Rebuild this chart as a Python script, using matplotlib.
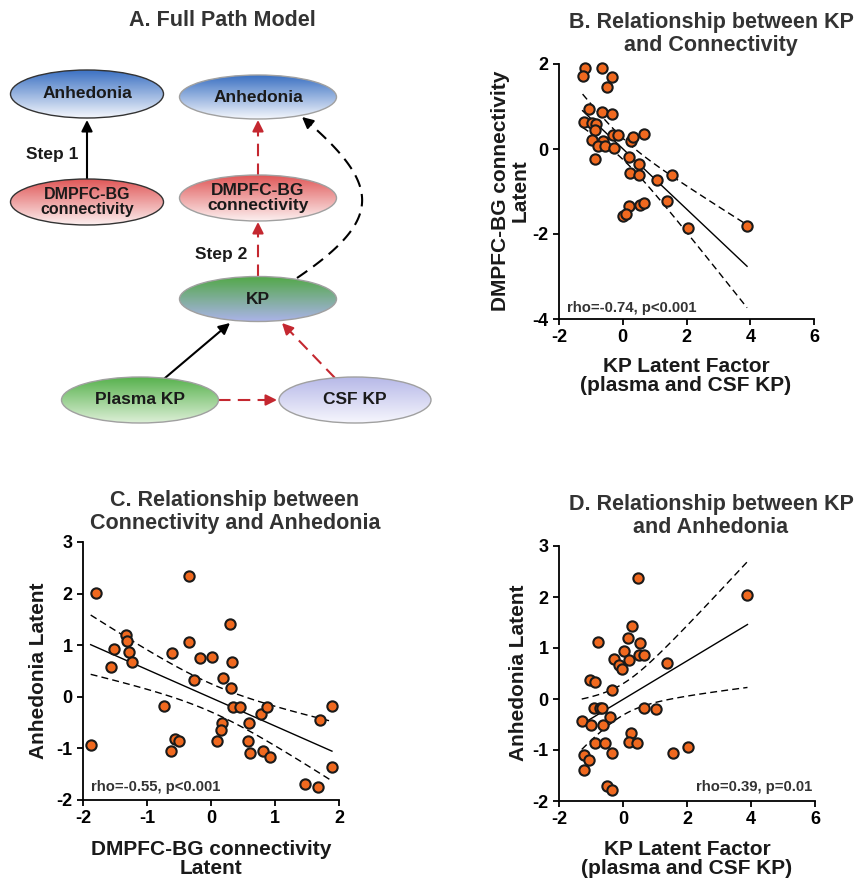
import numpy as np
import matplotlib
matplotlib.use("Agg")
import matplotlib.pyplot as plt
from matplotlib.patches import Ellipse
from matplotlib.colors import LinearSegmentedColormap

plt.rcParams['font.family'] = ['Liberation Sans', 'DejaVu Sans']
plt.rcParams['font.weight'] = 'bold'
plt.rcParams['axes.unicode_minus'] = False

W, H = 863, 885

# ---- data ----
# B: KP latent factor vs DMPFC-BG connectivity latent
kp_b = [-1.19, -1.26, -0.66, -0.33, -0.49, -1.06, -0.65, -0.35, -1.21, -0.98,
        -0.85, -0.87, -0.98, -0.63, -0.77, -0.56, -0.32, -0.14, -0.28, -0.88,
        0.25, 0.31, 0.68, 0.19, 0.52, 0.22, 0.50, 1.06, 1.56, 1.39,
        0.20, 0.54, 0.67, 0.00, 0.09, 2.05, 3.90]
conn_b = [1.90, 1.72, 1.90, 1.69, 1.47, 0.94, 0.88, 0.83, 0.64, 0.62,
          0.59, 0.45, 0.21, 0.20, 0.07, 0.07, 0.33, 0.34, 0.02, -0.24,
          0.18, 0.29, 0.35, -0.18, -0.35, -0.56, -0.61, -0.73, -0.61, -1.23,
          -1.33, -1.31, -1.28, -1.57, -1.52, -1.87, -1.81]

# C: connectivity latent vs anhedonia latent
conn_c = [-1.80, -1.88, -1.57, -1.51, -1.33, -1.32, -1.28, -1.23, -0.35, -0.35,
          -0.61, -0.26, -0.17, 0.01, -0.74, -0.57, -0.50, -0.63, 0.29, 0.33,
          0.19, 0.32, 0.34, 0.45, 0.17, 0.15, 0.09, 0.60, 0.58, 0.61,
          0.78, 0.88, 0.82, 0.92, 1.47, 1.67, 1.70, 1.89, 1.89]
anh_c = [2.02, -0.94, 0.57, 0.93, 1.19, 1.09, 0.86, 0.68, 2.35, 1.07,
         0.85, 0.33, 0.75, 0.77, -0.18, -0.82, -0.85, -1.05, 1.42, 0.68,
         0.36, 0.17, -0.19, -0.19, -0.50, -0.65, -0.85, -0.51, -0.85, -1.08,
         -0.34, -0.19, -1.05, -1.17, -1.69, -1.75, -0.45, -0.18, -1.37]

# D: KP latent factor vs anhedonia latent
kp_d = [0.46, 3.89, 0.28, 0.16, 0.52, -0.77, 0.04, 0.49, 0.67, 0.18,
        -0.28, -0.14, -0.04, 1.36, -1.02, -0.89, -0.33, -0.91, -0.72, -0.67,
        0.67, 1.02, -0.41, -1.29, -0.99, -0.64, 0.24, 0.18, 0.44, -0.88,
        -0.56, -0.35, -1.21, -1.06, -1.21, 1.57, 2.04, -0.50, -0.35]
anh_d = [2.38, 2.04, 1.44, 1.20, 1.10, 1.11, 0.95, 0.87, 0.87, 0.76,
         0.78, 0.66, 0.58, 0.70, 0.37, 0.34, 0.17, -0.17, -0.17, -0.17,
         -0.17, -0.19, -0.35, -0.44, -0.51, -0.51, -0.66, -0.84, -0.87, -0.87,
         -0.87, -1.06, -1.09, -1.19, -1.39, -1.06, -0.95, -1.71, -1.78]

T95 = 2.03  # t value for 95% band, df ~ 37

ORANGE = '#f0691f'
RED = '#c42830'


def px(x, y):
    return x / W, 1 - y / H


def fit_band(x, y, n=120):
    x = np.asarray(x)
    y = np.asarray(y)
    slope, icpt = np.polyfit(x, y, 1)
    xs = np.linspace(x.min(), x.max(), n)
    yhat = icpt + slope * xs
    resid = y - (icpt + slope * x)
    s = np.sqrt(np.sum(resid ** 2) / (len(x) - 2))
    sxx = np.sum((x - x.mean()) ** 2)
    half = T95 * s * np.sqrt(1 / len(x) + (xs - x.mean()) ** 2 / sxx)
    return xs, yhat, yhat - half, yhat + half


def scatter_panel(ax, x, y, xlim, ylim, xticks, yticks):
    xs, yhat, lo, hi = fit_band(x, y)
    ax.plot(xs, yhat, color='k', lw=1.0, zorder=2)
    ax.plot(xs, lo, color='k', lw=1.0, ls=(0, (5, 3)), zorder=2)
    ax.plot(xs, hi, color='k', lw=1.0, ls=(0, (5, 3)), zorder=2)
    ax.scatter(x, y, s=55, facecolor=ORANGE, edgecolor='#1a1a1a',
               linewidths=1.5, zorder=3, clip_on=False)
    ax.set_xlim(*xlim)
    ax.set_ylim(*ylim)
    ax.set_xticks(xticks)
    ax.set_yticks(yticks)
    for sp in ['top', 'right']:
        ax.spines[sp].set_visible(False)
    for sp in ['left', 'bottom']:
        ax.spines[sp].set_linewidth(1.3)
    ax.tick_params(length=4.5, width=1.3, pad=3, labelsize=13)
    for lab in ax.get_xticklabels() + ax.get_yticklabels():
        lab.set_fontweight('bold')


fig = plt.figure(figsize=(W / 100, H / 100), dpi=100)

# ---- panel A: path model diagram ----
axa = fig.add_axes([0, 1 - 440 / H, 440 / W, 440 / H])
axa.axis('off')

nodes = [
    # cx, cy, w, h, top colour, bottom colour, edge, label, size
    (87, 94, 153, 48, '#3d72c3', '#f3f6fc', '#333333', 'Anhedonia', 12.5),
    (87, 202, 153, 46, '#e05858', '#fcefef', '#333333', 'DMPFC-BG\nconnectivity', 11.5),
    (258, 97, 157, 44, '#3d72c3', '#f3f6fc', '#a0a0a0', 'Anhedonia', 12.5),
    (258, 198, 157, 46, '#e05858', '#fcefef', '#a0a0a0', 'DMPFC-BG\nconnectivity', 12.5),
    (258, 299, 157, 45, '#52a848', '#aab3e6', '#a0a0a0', 'KP', 12.5),
    (140, 400, 157, 46, '#58b24e', '#dcefd6', '#a0a0a0', 'Plasma KP', 12.5),
    (355, 400, 152, 46, '#b7b9e8', '#f6f6fd', '#a0a0a0', 'CSF KP', 12.5),
]
grad = np.linspace(0, 1, 64).reshape(-1, 1)
for cx, cy, w, h, c1, c2, ec, label, fs in nodes:
    e = Ellipse((cx, cy), w, h, facecolor='none', edgecolor=ec, lw=1.0, zorder=3)
    axa.add_patch(e)
    cmap = LinearSegmentedColormap.from_list('g', [c1, c2])
    im = axa.imshow(grad, cmap=cmap, extent=(cx - w / 2, cx + w / 2, cy + h / 2, cy - h / 2),
                    aspect='auto', zorder=2, interpolation='bilinear')
    im.set_clip_path(e)
    axa.text(cx, cy, label, ha='center', va='center', fontsize=fs,
             fontweight='bold', color='#1a1a1a', zorder=4, linespacing=1.0)
axa.set_xlim(0, 440)
axa.set_ylim(440, 0)

HEAD = dict(arrowstyle='-|>,head_length=0.6,head_width=0.3', lw=1.5,
            shrinkA=0, shrinkB=0, mutation_scale=11)


def arrow(p0, p1, color, dashed):
    p0 = np.asarray(p0, float)
    p1 = np.asarray(p1, float)
    d = (p1 - p0) / np.hypot(*(p1 - p0))
    base = p1 - 9 * d
    ls = (0, (6, 3.5)) if dashed else '-'
    axa.plot([p0[0], base[0]], [p0[1], base[1]], color=color, lw=1.5, ls=ls, zorder=1)
    axa.annotate('', xy=p1, xytext=base, arrowprops=dict(color=color, **HEAD), zorder=1)


arrow((87, 178), (87, 120), 'k', False)
arrow((258, 176), (258, 120), RED, True)
arrow((258, 277), (258, 222), RED, True)
arrow((165, 378), (230, 323), 'k', False)
arrow((335, 378), (282, 323), RED, True)
arrow((218, 400), (277, 400), RED, True)

# curved dashed path KP -> Anhedonia
P = np.array([[297, 278], [384, 219], [382, 185], [302, 117]], float)


def bez(t):
    t = np.atleast_1d(t)[:, None]
    return ((1 - t) ** 3 * P[0] + 3 * (1 - t) ** 2 * t * P[1]
            + 3 * (1 - t) * t ** 2 * P[2] + t ** 3 * P[3])


curve = bez(np.linspace(0, 0.97, 100))
axa.plot(curve[:, 0], curve[:, 1], color='k', lw=1.5, ls=(0, (6, 3.5)), zorder=1)
axa.annotate('', xy=P[3], xytext=bez(0.97)[0], arrowprops=dict(color='k', **HEAD), zorder=1)

axa.text(52, 154, 'Step 1', ha='center', va='center', fontsize=12.5, fontweight='bold', color='#1a1a1a')
axa.text(221, 254, 'Step 2', ha='center', va='center', fontsize=12.5, fontweight='bold', color='#1a1a1a')

TITLE = dict(ha='center', va='center', fontsize=15.5, fontweight='bold', color='#333333', linespacing=1.15)
fig.text(*px(222, 20), 'A. Full Path Model', **TITLE)

# ---- panel B ----
axb = fig.add_axes([559 / W, 1 - 319 / H, 255 / W, 255 / H])
scatter_panel(axb, kp_b, conn_b, (-2, 6), (-4, 2), [-2, 0, 2, 4, 6], [-4, -2, 0, 2])
fig.text(*px(711, 34), 'B. Relationship between KP\nand Connectivity', **TITLE)
axb.text(0.03, 0.045, 'rho=-0.74, p<0.001', transform=axb.transAxes, fontsize=10.7,
         fontweight='bold', color='#333333', ha='left', va='center')

# ---- panel C ----
axc = fig.add_axes([83 / W, 1 - 800 / H, 256 / W, 258 / H])
scatter_panel(axc, conn_c, anh_c, (-2, 2), (-2, 3), [-2, -1, 0, 1, 2], [-2, -1, 0, 1, 2, 3])
fig.text(*px(235, 512), 'C. Relationship between\nConnectivity and Anhedonia', **TITLE)
axc.text(0.03, 0.05, 'rho=-0.55, p<0.001', transform=axc.transAxes, fontsize=10.7,
         fontweight='bold', color='#333333', ha='left', va='center')

# ---- panel D ----
axd = fig.add_axes([559 / W, 1 - 801 / H, 256 / W, 255 / H])
scatter_panel(axd, kp_d, anh_d, (-2, 6), (-2, 3), [-2, 0, 2, 4, 6], [-2, -1, 0, 1, 2, 3])
fig.text(*px(711, 516), 'D. Relationship between KP\nand Anhedonia', **TITLE)
axd.text(0.99, 0.055, 'rho=0.39, p=0.01', transform=axd.transAxes, fontsize=10.7,
         fontweight='bold', color='#333333', ha='right', va='center')

LAB = dict(ha='center', va='center', fontsize=15, fontweight='bold', color='#1a1a1a', linespacing=1.05)
fig.text(*px(686, 376), 'KP Latent Factor\n(plasma and CSF KP)', **LAB)
fig.text(*px(510, 191), 'DMPFC-BG connectivity\nLatent', rotation=90, **LAB)
fig.text(*px(211, 859), 'DMPFC-BG connectivity\nLatent', **LAB)
fig.text(*px(38, 671), 'Anhedonia Latent', rotation=90, **LAB)
fig.text(*px(687, 859), 'KP Latent Factor\n(plasma and CSF KP)', **LAB)
fig.text(*px(518, 673), 'Anhedonia Latent', rotation=90, **LAB)

fig.savefig('out.png', dpi=100)
